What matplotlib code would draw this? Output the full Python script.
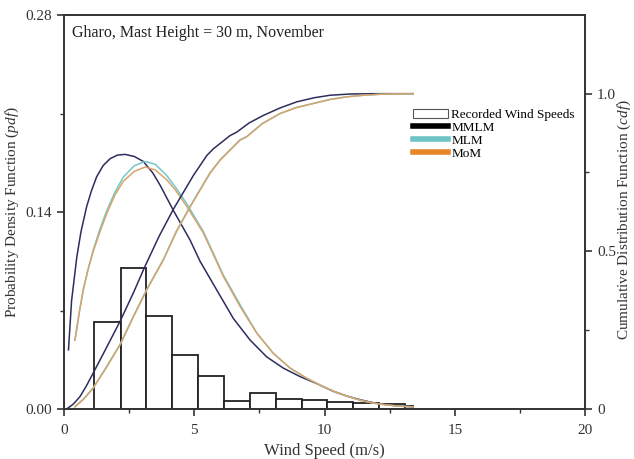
import matplotlib
matplotlib.use('Agg')
import matplotlib.pyplot as plt
import numpy as np
from matplotlib.lines import Line2D
from matplotlib.patches import Patch
from matplotlib.ticker import MultipleLocator

plt.rcParams['font.family'] = ['Liberation Serif', 'DejaVu Serif']
plt.rcParams['mathtext.fontset'] = 'custom'
plt.rcParams['mathtext.rm'] = 'Liberation Serif'
plt.rcParams['mathtext.it'] = 'Liberation Serif:italic'

# histogram of recorded wind speeds (bin edges in m/s, density)
bin_edges = [1.16, 2.17, 3.16, 4.16, 5.16, 6.15, 7.14, 8.13, 9.12, 10.11, 11.10, 12.10, 13.09, 13.41]
freq = [0.0616, 0.1004, 0.0663, 0.0382, 0.0233, 0.0057, 0.0111, 0.0069, 0.0064, 0.0052, 0.0040, 0.0036, 0.0021]

# pdf curves
mmlm_pdf_x = [0.17, 0.29, 0.49, 0.65, 0.87, 1.05, 1.25, 1.50, 1.77, 2.05, 2.34, 2.70, 3.04, 3.40, 3.69, 4.20,
              4.84, 5.22, 5.86, 6.50, 7.14, 7.78, 8.42, 9.06, 9.70, 10.30, 10.85, 11.40, 11.86, 12.40, 12.90, 13.40]
mmlm_pdf = [0.042, 0.077, 0.108, 0.126, 0.144, 0.155, 0.165, 0.173, 0.178, 0.1805, 0.181, 0.1795, 0.176, 0.168, 0.159, 0.141,
            0.120, 0.105, 0.0846, 0.0643, 0.049, 0.037, 0.029, 0.023, 0.018, 0.0128, 0.0092, 0.0064, 0.0045, 0.003, 0.0020, 0.0015]

mom_pdf_x = [0.42, 0.58, 0.74, 0.92, 1.12, 1.38, 1.64, 1.95, 2.28, 2.70, 3.11, 3.50, 3.94, 4.30, 4.71, 5.35, 6.12, 6.76,
             7.40, 8.03, 8.68, 9.32, 9.95, 10.40, 10.85, 11.40, 11.86, 12.40, 12.90, 13.40]
mlm_pdf = [0.049, 0.068, 0.085, 0.099, 0.113, 0.128, 0.141, 0.154, 0.165, 0.173, 0.176, 0.174, 0.166, 0.157, 0.146, 0.126, 0.095, 0.074,
           0.054, 0.0396, 0.029, 0.0218, 0.0158, 0.0122, 0.0092, 0.006, 0.0042, 0.0028, 0.002, 0.0015]
mom_pdf = [0.049, 0.068, 0.085, 0.099, 0.112, 0.126, 0.139, 0.152, 0.162, 0.169, 0.172, 0.170, 0.163, 0.155, 0.144, 0.125, 0.094, 0.0727,
           0.0538, 0.0396, 0.029, 0.0218, 0.0158, 0.0122, 0.0092, 0.006, 0.0042, 0.0028, 0.002, 0.0015]

# cdf curves
mmlm_cdf_x = [0.10, 0.35, 0.61, 0.85, 1.12, 1.60, 2.15, 2.66, 3.11, 3.65, 4.20, 4.58, 4.96, 5.48, 5.73, 6.37, 6.63,
              7.10, 7.65, 8.30, 8.93, 9.60, 10.21, 11.00, 12.13, 13.40]
mmlm_cdf = [0.0, 0.015, 0.039, 0.072, 0.114, 0.190, 0.278, 0.368, 0.453, 0.548, 0.634, 0.687, 0.740, 0.804, 0.825, 0.867, 0.878,
            0.907, 0.931, 0.955, 0.974, 0.987, 0.995, 0.999, 1.0, 1.0]

mom_cdf_x = [0.42, 0.75, 1.12, 1.60, 2.15, 2.65, 3.17, 3.81, 4.30, 4.84, 5.60, 5.99, 6.76, 7.01, 7.60, 8.29, 8.90,
             9.57, 10.20, 10.85, 11.50, 12.13, 13.40]
mlm_cdf = [0.007, 0.032, 0.067, 0.130, 0.205, 0.292, 0.379, 0.474, 0.562, 0.643, 0.749, 0.790, 0.854, 0.864, 0.905, 0.937, 0.956,
           0.969, 0.982, 0.990, 0.995, 0.998, 1.0]
mom_cdf = [0.007, 0.031, 0.066, 0.128, 0.203, 0.290, 0.377, 0.472, 0.560, 0.641, 0.747, 0.789, 0.853, 0.863, 0.904, 0.937, 0.955,
           0.969, 0.981, 0.990, 0.995, 0.998, 1.0]

navy = '#2d2d5e'
cyan = '#72c8c8'
orange = '#d9a46c'

fig = plt.figure(figsize=(6.34, 4.59), dpi=100)
ax = fig.add_axes([0.101, 0.109, 0.822, 0.858])
ax2 = ax.twinx()

widths = np.diff(bin_edges)
ax.bar(bin_edges[:-1], freq, width=widths, align='edge', facecolor='white',
       edgecolor='#222222', linewidth=1.3, zorder=2)

ax.plot(mmlm_pdf_x, mmlm_pdf, color=navy, lw=1.1, zorder=3)
ax.plot(mom_pdf_x, mlm_pdf, color=cyan, lw=1.1, zorder=3)
ax.plot(mom_pdf_x, mom_pdf, color=orange, lw=1.1, zorder=3)

ax2.plot(mmlm_cdf_x, mmlm_cdf, color=navy, lw=1.1)
ax2.plot(mom_cdf_x, mlm_cdf, color=cyan, lw=1.1)
ax2.plot(mom_cdf_x, mom_cdf, color=orange, lw=1.1)

ax.set_xlim(0, 20)
ax.set_ylim(0, 0.28)
ax2.set_ylim(0, 1.249)

ax.set_xticks([0, 5, 10, 15, 20])
ax.xaxis.set_minor_locator(MultipleLocator(2.5))
ax.set_yticks([0, 0.14, 0.28])
ax.set_yticklabels(['0.00', '0.14', '0.28'])
ax.yaxis.set_minor_locator(MultipleLocator(0.07))
ax2.set_yticks([0, 0.5, 1.0])
ax2.set_yticklabels(['0', '0.5', '1.0'])
ax2.yaxis.set_minor_locator(MultipleLocator(0.25))

for a in (ax, ax2):
    a.tick_params(which='major', direction='out', length=5, width=1.2, colors='#333333',
                  labelsize=11, labelcolor='#333333')
    a.tick_params(which='minor', direction='out', length=3, width=1.0, colors='#333333')
    for s in a.spines.values():
        s.set_color('#333333')
        s.set_linewidth(1.2)
ax.tick_params(axis='x', pad=6)

ax.set_xlabel('Wind Speed (m/s)', fontsize=12, color='#333333', labelpad=4)
ax.set_ylabel(r'Probability Density Function ($\mathit{pdf}$)', fontsize=11, color='#333333')
ax2.set_ylabel(r'Cumulative Distribution Function ($\mathit{cdf}$)', fontsize=11, color='#333333')
ax.yaxis.set_label_coords(-0.083, 0.5)
ax2.yaxis.set_label_coords(1.058, 0.48)

ax.text(0.015, 0.975, 'Gharo, Mast Height = 30 m, November', transform=ax.transAxes,
        ha='left', va='top', fontsize=11.5, color='#222222')

handles = [Patch(facecolor='white', edgecolor='#555555', linewidth=0.8),
           Line2D([], [], color='black', lw=4),
           Line2D([], [], color='#6cc4c6', lw=4),
           Line2D([], [], color='#e8862a', lw=4)]
labels = ['Recorded Wind Speeds', 'MMLM', 'MLM', 'MoM']
ax2.legend(handles, labels, loc='upper left', bbox_to_anchor=(0.67, 0.762), frameon=False,
           fontsize=9.5, labelspacing=0.05, handlelength=2.6, handletextpad=0.3, borderpad=0,
           borderaxespad=0)

fig.savefig('out.png', dpi=100)
